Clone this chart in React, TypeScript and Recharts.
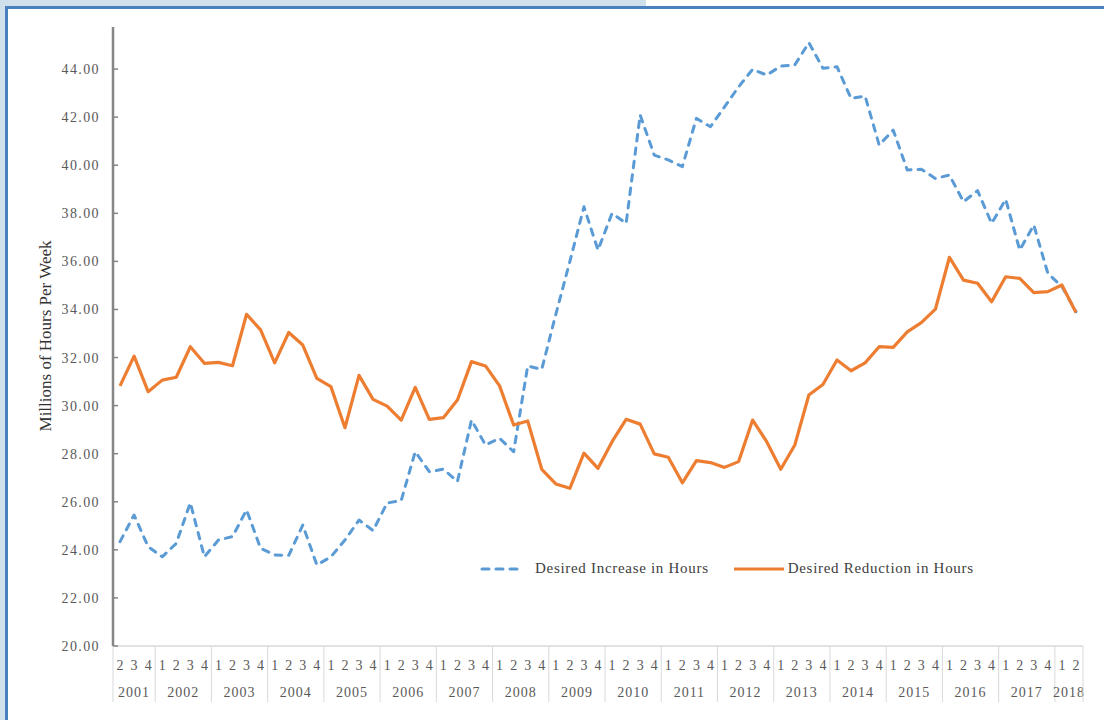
import React from 'react';
import { LineChart, Line, XAxis, YAxis } from 'recharts';

// quarterly survey, 2001 Q2 through 2018 Q2
const years = [2001, 2002, 2003, 2004, 2005, 2006, 2007, 2008, 2009, 2010, 2011, 2012, 2013, 2014, 2015, 2016, 2017, 2018];
const quartersByYear = [
  [2, 3, 4],
  [1, 2, 3, 4], [1, 2, 3, 4], [1, 2, 3, 4], [1, 2, 3, 4],
  [1, 2, 3, 4], [1, 2, 3, 4], [1, 2, 3, 4], [1, 2, 3, 4],
  [1, 2, 3, 4], [1, 2, 3, 4], [1, 2, 3, 4], [1, 2, 3, 4],
  [1, 2, 3, 4], [1, 2, 3, 4], [1, 2, 3, 4], [1, 2, 3, 4],
  [1, 2],
];

const desiredIncrease = [
  24.34, 25.45, 24.13,
  23.71, 24.27, 25.96, 23.71,
  24.41, 24.55, 25.66, 24.06,
  23.79, 23.77, 25.03, 23.37,
  23.71, 24.41, 25.24, 24.80,
  25.95, 26.05, 28.08, 27.25,
  27.36, 26.84, 29.40, 28.36,
  28.64, 28.08, 31.65, 31.51,
  33.80, 36.00, 38.27, 36.47,
  38.00, 37.58, 42.09, 40.42,
  40.22, 39.94, 41.95, 41.60,
  42.43, 43.26, 43.99, 43.75,
  44.12, 44.17, 45.10, 44.03,
  44.10, 42.78, 42.88, 40.84,
  41.46, 39.80, 39.83, 39.45,
  39.59, 38.48, 38.94, 37.58,
  38.58, 36.47, 37.51, 35.50,
  34.95, 33.91,
];

const desiredReduction = [
  30.82, 32.06, 30.58,
  31.06, 31.18, 32.45, 31.76,
  31.80, 31.66, 33.80, 33.15,
  31.78, 33.04, 32.52, 31.13,
  30.79, 29.08, 31.26, 30.26,
  29.98, 29.40, 30.76, 29.43,
  29.50, 30.23, 31.83, 31.65,
  30.82, 29.19, 29.36, 27.35,
  26.74, 26.56, 28.02, 27.39,
  28.50, 29.43, 29.23, 27.99,
  27.85, 26.79, 27.71, 27.63,
  27.43, 27.67, 29.40, 28.50,
  27.35, 28.36, 30.44, 30.88,
  31.90, 31.45, 31.78, 32.45,
  32.42, 33.07, 33.45, 34.01,
  36.17, 35.22, 35.09, 34.32,
  35.36, 35.29, 34.70, 34.74,
  35.02, 33.87,
];

const yTicks = [20, 22, 24, 26, 28, 30, 32, 34, 36, 38, 40, 42, 44];

const rows = years.flatMap((year, yi) =>
  quartersByYear[yi].map((q, qi) => ({
    year,
    quarter: q,
    firstOfYear: qi === 0,
    yearCount: quartersByYear[yi].length,
  }))
);
const data = rows.map((r, i) => ({
  ...r,
  key: `${r.year}-${r.quarter}`,
  increase: desiredIncrease[i],
  reduction: desiredReduction[i],
}));

const W = 1104;
const H = 720;
const margin = { top: 27, right: 21, bottom: 14, left: 0 };
const yAxisWidth = 113;
const plotWidth = W - margin.left - yAxisWidth - margin.right;
const step = plotWidth / data.length;

const FONT = "'Liberation Serif', 'Times New Roman', serif";
const BLUE = '#5b9bd5';
const ORANGE = '#ed7d31';
const GRID = '#d9d9d9';
const TEXT = '#595959';

const XTick = (props: any) => {
  const { x, y, index } = props;
  const d = data[index];
  if (!d) return null;
  const left = x - step / 2;
  const isLast = index === data.length - 1;
  return (
    <g>
      {d.firstOfYear && <line x1={left} x2={left} y1={y} y2={y + 56} stroke={GRID} strokeWidth={1} />}
      {isLast && <line x1={x + step / 2} x2={x + step / 2} y1={y} y2={y + 56} stroke={GRID} strokeWidth={1} />}
      <text x={x} y={y + 24} textAnchor="middle" fontFamily={FONT} fontSize={14} fill={TEXT}>
        {d.quarter}
      </text>
      {d.firstOfYear && (
        <text
          x={x + ((d.yearCount - 1) / 2) * step}
          y={y + 51}
          textAnchor="middle"
          fontFamily={FONT}
          fontSize={14}
          letterSpacing={1}
          fill={TEXT}
        >
          {d.year}
        </text>
      )}
    </g>
  );
};

const YTick = (props: any) => {
  const { x, y, payload } = props;
  return (
    <g>
      <line x1={x} x2={x + 5} y1={y} y2={y} stroke="#868686" strokeWidth={1.5} />
      <text x={x - 13} y={y + 5} textAnchor="end" fontFamily={FONT} fontSize={14} letterSpacing={1.4} fill={TEXT}>
        {Number(payload.value).toFixed(2)}
      </text>
    </g>
  );
};

const LegendItem = ({ color, dashed, label, gap }: { color: string; dashed?: boolean; label: string; gap: number }) => (
  <div style={{ display: 'flex', alignItems: 'center' }}>
    <svg width={dashed ? 46 : 50} height={10} style={{ marginRight: gap }}>
      <line
        x1={dashed ? 3 : 0}
        x2={dashed ? 44 : 50}
        y1={5}
        y2={5}
        stroke={color}
        strokeWidth={3}
        strokeDasharray={dashed ? '7 7' : undefined}
        strokeLinecap={dashed ? 'round' : 'butt'}
      />
    </svg>
    <span>{label}</span>
  </div>
);

export default function App() {
  return (
    <div style={{ position: 'absolute', left: 0, top: 0, width: W, height: H, background: '#fff', overflow: 'hidden' }}>
      {/* page frame */}
      <div style={{ position: 'absolute', left: 0, top: 0, width: 646, height: 7, background: '#d0e1ec' }} />
      <div style={{ position: 'absolute', left: 0, top: 0, width: 5, height: H, background: '#d0e1ec' }} />
      <div style={{ position: 'absolute', left: 5, top: 6, width: W - 5, height: 3, background: '#4a80bd' }} />
      <div style={{ position: 'absolute', left: 5, top: 6, width: 2.5, height: H - 6, background: '#4a80bd' }} />

      <div style={{ position: 'absolute', left: 0, top: 0 }}>
        <LineChart width={W} height={H} data={data} margin={margin}>
          <XAxis
            dataKey="key"
            interval={0}
            axisLine={{ stroke: GRID, strokeWidth: 1.5 }}
            tickLine={false}
            tickSize={0}
            tickMargin={0}
            height={60}
            padding={{ left: step / 2, right: step / 2 }}
            tick={<XTick />}
          />
          <YAxis
            type="number"
            domain={[20, 45.75]}
            ticks={yTicks}
            allowDataOverflow
            width={yAxisWidth}
            axisLine={{ stroke: '#868686', strokeWidth: 2.5 }}
            tickLine={false}
            tickSize={0}
            tickMargin={0}
            tick={<YTick />}
          />
          <Line
            type="linear"
            dataKey="increase"
            name="Desired Increase in Hours"
            stroke={BLUE}
            strokeWidth={3}
            strokeDasharray="6.5 7"
            strokeLinecap="round"
            strokeLinejoin="round"
            dot={false}
            activeDot={false}
            isAnimationActive={false}
          />
          <Line
            type="linear"
            dataKey="reduction"
            name="Desired Reduction in Hours"
            stroke={ORANGE}
            strokeWidth={3.2}
            strokeLinejoin="round"
            dot={false}
            activeDot={false}
            isAnimationActive={false}
          />
        </LineChart>
      </div>

      <div
        style={{
          position: 'absolute',
          left: 46,
          top: 336,
          transform: 'translate(-50%, -50%) rotate(-90deg)',
          whiteSpace: 'nowrap',
          fontFamily: FONT,
          fontSize: 17,
          color: '#333',
        }}
      >
        Millions of Hours Per Week
      </div>

      <div
        style={{
          position: 'absolute',
          left: 479,
          top: 560,
          display: 'flex',
          gap: 25,
          fontFamily: FONT,
          fontSize: 15,
          letterSpacing: 0.7,
          color: '#404040',
        }}
      >
        <LegendItem color={BLUE} dashed gap={10} label="Desired Increase in Hours" />
        <LegendItem color={ORANGE} gap={4} label="Desired Reduction in Hours" />
      </div>
    </div>
  );
}
